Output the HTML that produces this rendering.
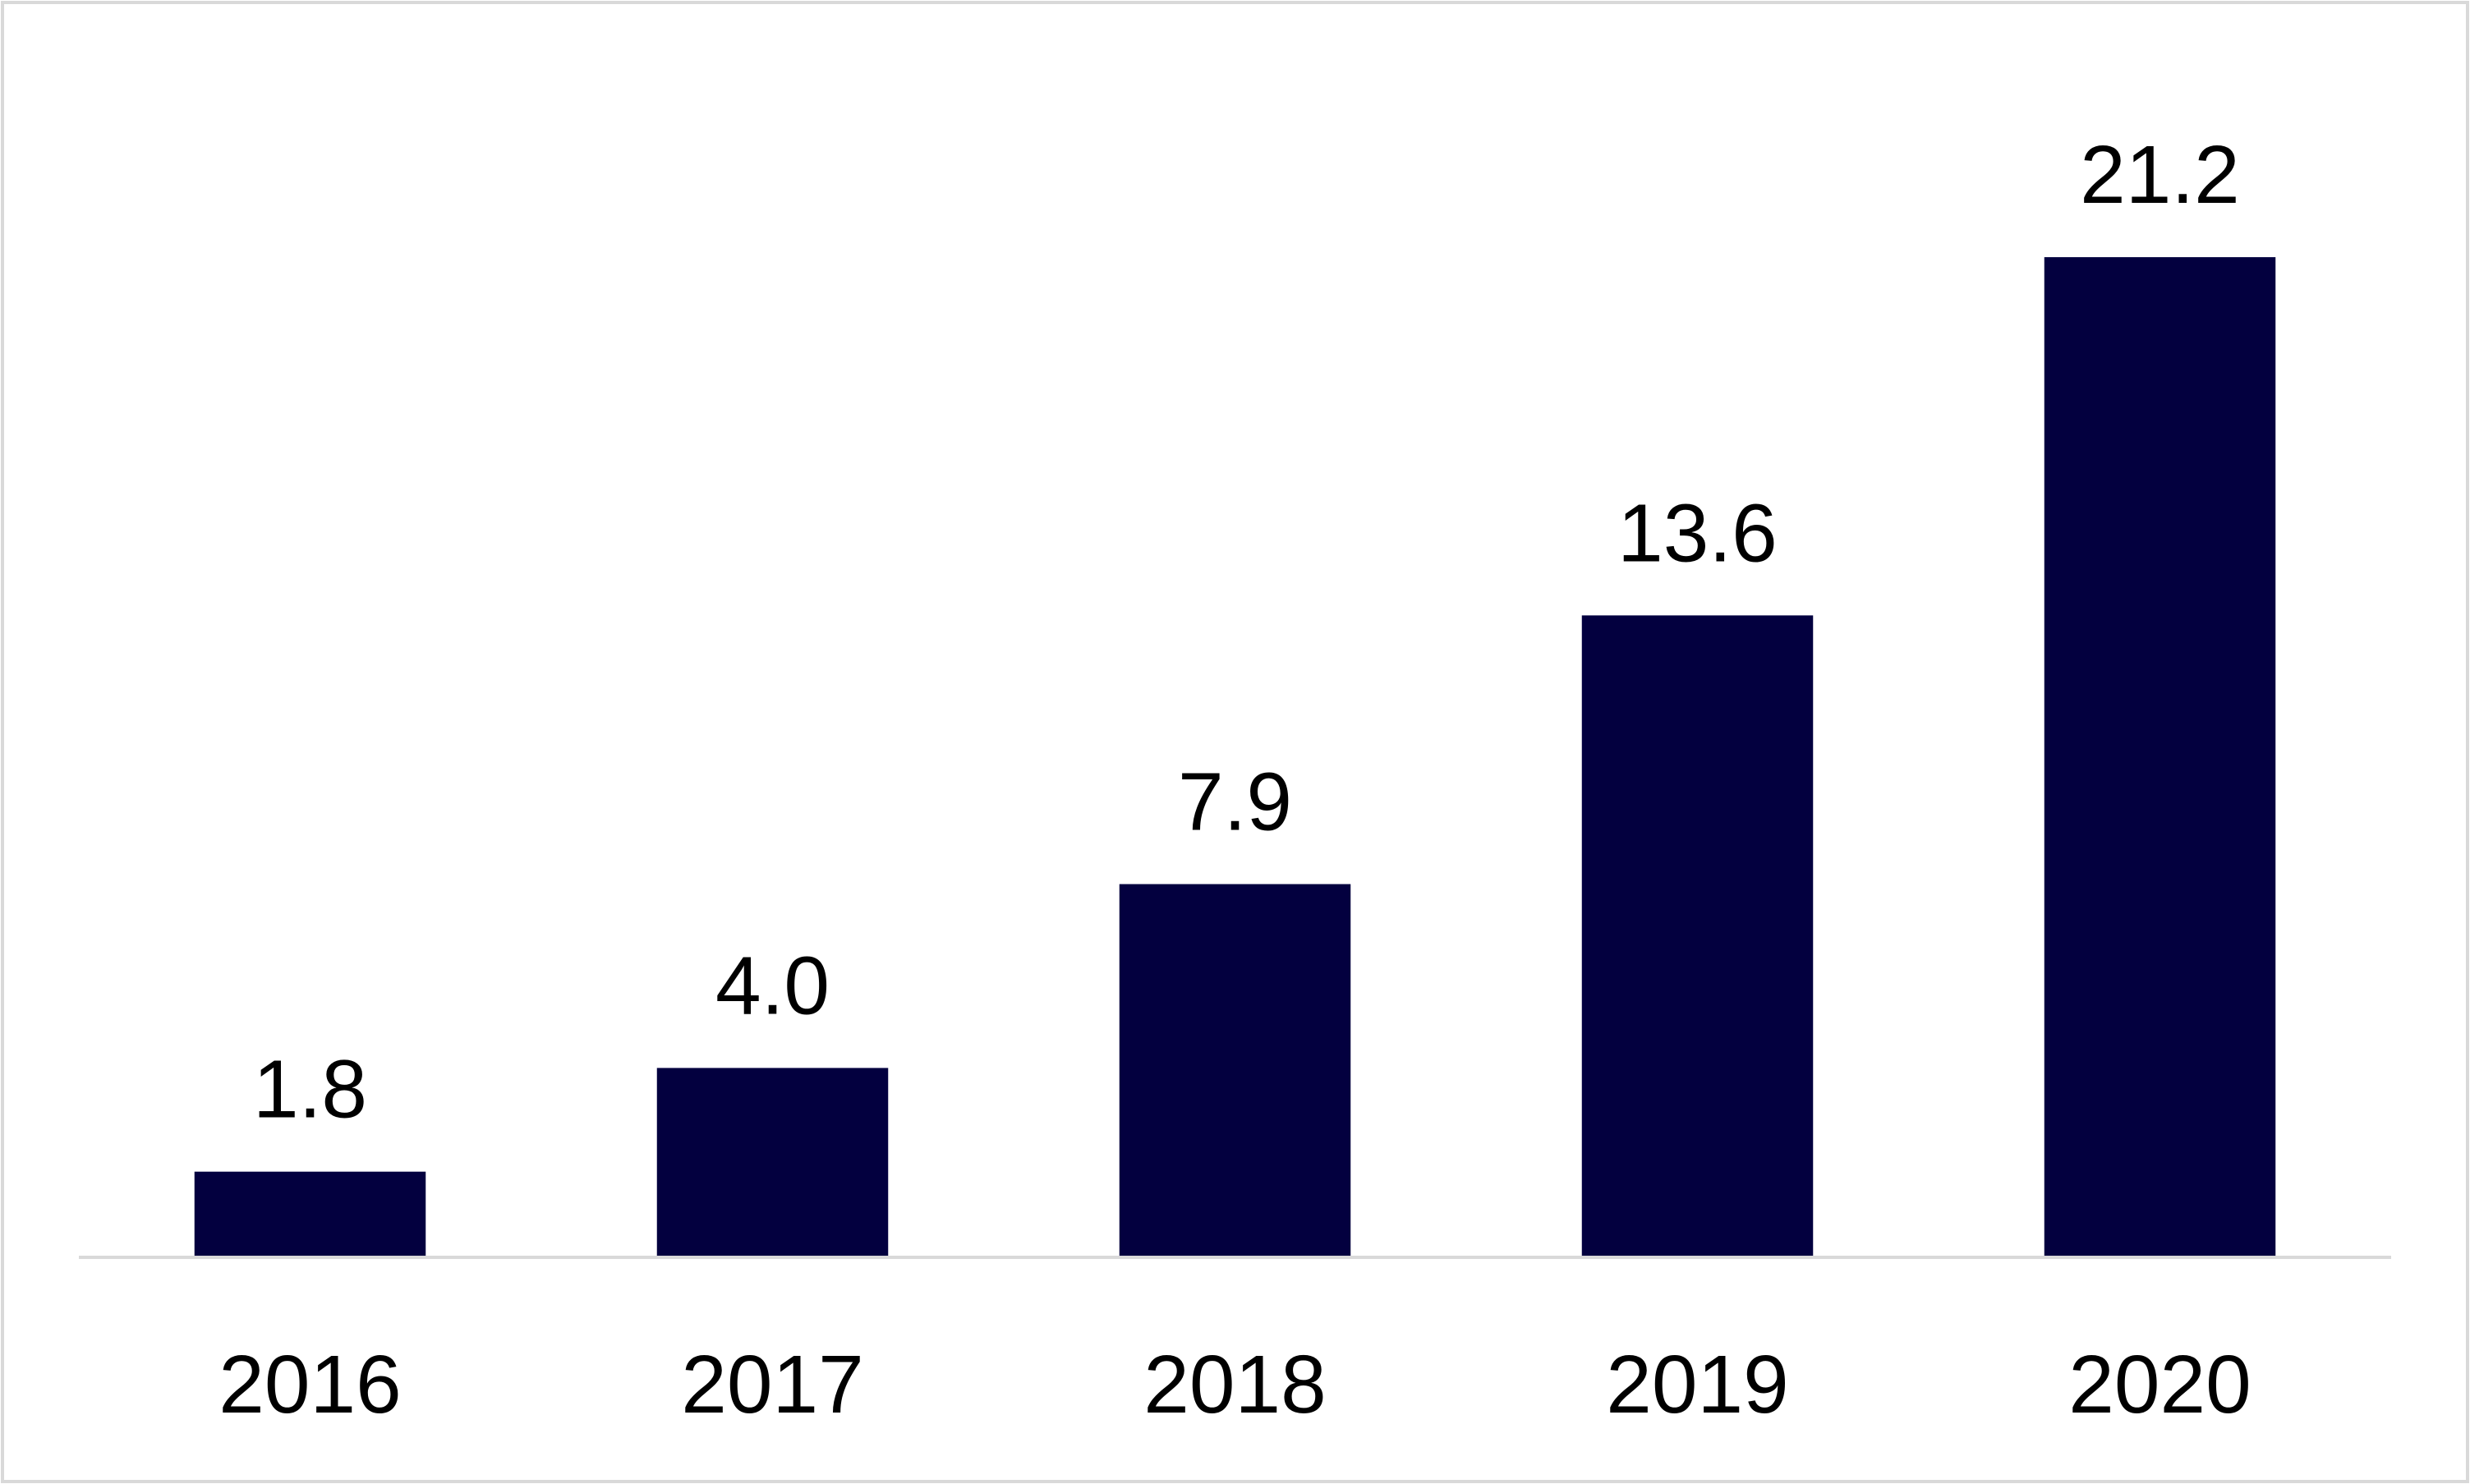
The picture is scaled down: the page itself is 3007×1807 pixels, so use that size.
<!DOCTYPE html>
<html><head><meta charset="utf-8"><style>
html,body{margin:0;padding:0;background:#fff;}
svg{display:block;font-family:"Liberation Sans",sans-serif;}
</style></head><body>
<svg id="chart" width="3007" height="1807" viewBox="0 0 3007 1807">
<rect x="3" y="3" width="3001" height="1801" fill="#fff" stroke="#d9d9d9" stroke-width="4"/>
<g id="bars"></g>
<line x1="96" y1="1531" x2="2911" y2="1531" stroke="#d9d9d9" stroke-width="4"/>
</svg>
<script>
const categories = ["2016","2017","2018","2019","2020"];
const values = [1.8, 4.0, 7.9, 13.6, 21.2];
const valueLabels = ["1.8","4.0","7.9","13.6","21.2"];
const ns = "http://www.w3.org/2000/svg";
const plotLeft = 96, plotRight = 2911, baseY = 1530, pxPerUnit = 57.4;
const band = (plotRight - plotLeft) / categories.length;
const xCenter = i => plotLeft + band * (i + 0.5);
const yScale = v => baseY - v * pxPerUnit;
const g = document.getElementById('bars');
categories.forEach((c, i) => {
  const w = band * 0.5;
  const r = document.createElementNS(ns, 'rect');
  
  
  r.setAttribute('x', xCenter(i) - w / 2);
  r.setAttribute('y', yScale(values[i]));
  r.setAttribute('width', w);
  r.setAttribute('height', baseY - yScale(values[i]));
  r.setAttribute('fill', '#03003f');
  g.appendChild(r);
  const t = document.createElementNS(ns, 'text');
  
  
  t.setAttribute('x', xCenter(i));
  t.setAttribute('y', yScale(values[i]) - 66);
  t.setAttribute('text-anchor', 'middle');
  t.setAttribute('font-size', '100');
  t.setAttribute('fill', '#000');
  t.textContent = valueLabels[i];
  g.appendChild(t);
  const x = document.createElementNS(ns, 'text');
  
  
  x.setAttribute('x', xCenter(i));
  x.setAttribute('y', 1720);
  x.setAttribute('text-anchor', 'middle');
  x.setAttribute('font-size', '100');
  x.setAttribute('fill', '#000');
  x.textContent = c;
  g.appendChild(x);
});
</script>
</body></html>
